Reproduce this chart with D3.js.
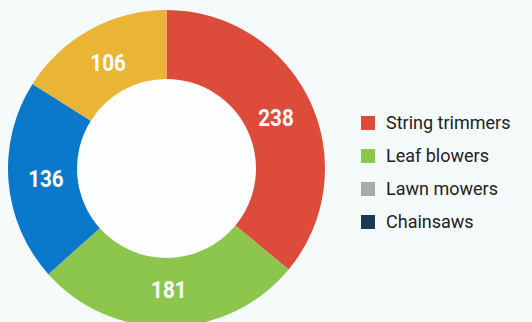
<!DOCTYPE html>
<html>
<head>
<meta charset="utf-8">
<script src="https://cdn.jsdelivr.net/npm/d3@7"></script>
<style>
  html, body { margin: 0; padding: 0; background: #f5fbfb; }
  svg { display: block; }
</style>
</head>
<body>
<svg id="chart" width="532" height="322"></svg>
<script>
// Equipment counts shown in the donut
const categories = ["String trimmers", "Leaf blowers", "Lawn mowers", "Chainsaws"];
const values = [238, 181, 136, 106];
const sliceColors = ["#dd4b3b", "#8cc64c", "#0b79cb", "#eab434"];
const legendColors = ["#dd4b3b", "#8cc64c", "#a9abab", "#173a55"];

const svg = d3.select("#chart");
const cx = 166.5, cy = 168.5;
const outerR = 158.5, innerR = 89.5;

const data = categories.map((c, i) => ({ name: c, value: values[i], color: sliceColors[i] }));

const pie = d3.pie().value(d => d.value).sort(null);
const arc = d3.arc().innerRadius(innerR).outerRadius(outerR);
const labelArc = d3.arc().innerRadius(121).outerRadius(121);

const g = svg.append("g").attr("transform", `translate(${cx},${cy})`);

// White hole behind the ring
g.append("circle").attr("r", innerR).attr("fill", "#fdfefe");

const arcs = pie(data);
g.selectAll("path.slice")
  .data(arcs)
  .join("path")
  .attr("class", "slice")
  .attr("d", arc)
  .attr("fill", d => d.data.color);

// Value labels: bold, horizontally condensed
g.selectAll("text.val")
  .data(arcs)
  .join("text")
  .attr("class", "val")
  .attr("transform", d => `translate(${labelArc.centroid(d)}) scale(0.86,1)`)
  .attr("text-anchor", "middle")
  .attr("dy", "0.36em")
  .attr("fill", "#ffffff")
  .attr("font-family", "Roboto, sans-serif")
  .attr("font-weight", "bold")
  .attr("font-size", 24)
  .text(d => d.data.value);

// Legend
const legend = svg.append("g").attr("transform", "translate(361,123)");
const rowH = 33;
const items = legend.selectAll("g.item")
  .data(categories)
  .join("g")
  .attr("class", "item")
  .attr("transform", (d, i) => `translate(0,${i * rowH})`);

items.append("rect")
  .attr("x", 0).attr("y", -7)
  .attr("width", 14).attr("height", 14)
  .attr("fill", (d, i) => legendColors[i]);

items.append("text")
  .attr("x", 25)
  .attr("dy", "0.35em")
  .attr("fill", "#222222")
  .attr("font-family", "Roboto, 'Open Sans', sans-serif")
  .attr("font-size", 18)
  .text(d => d);
</script>
</body>
</html>
